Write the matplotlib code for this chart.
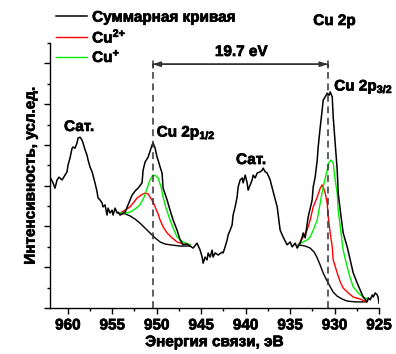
import matplotlib
matplotlib.use("Agg")
import matplotlib.pyplot as plt
import matplotlib.patheffects as pe
from matplotlib.ticker import MultipleLocator

plt.rcParams["font.family"] = ["Liberation Sans", "DejaVu Sans"]
plt.rcParams["font.weight"] = "bold"
plt.rcParams["mathtext.fontset"] = "custom"
plt.rcParams["mathtext.rm"] = "Liberation Sans:bold"
plt.rcParams["mathtext.bf"] = "Liberation Sans:bold"
plt.rcParams["mathtext.default"] = "bf"

# Cu 2p survey: total measured curve
total_be = [962.00, 961.66, 961.44, 961.21, 960.99, 960.65, 960.31, 960.09, 959.97, 959.75,
            959.52, 959.41, 959.19, 958.96, 958.85, 958.62, 958.40, 958.29, 958.06, 957.84,
            957.72, 957.50, 957.27, 956.94, 956.71, 956.60, 956.37, 956.15, 956.04, 955.81,
            955.59, 955.47, 955.25, 955.02, 954.91, 954.68, 954.46, 954.35, 954.12, 953.56,
            953.22, 952.77, 952.43, 952.10, 951.65, 951.53, 951.31, 950.97, 950.52, 950.41,
            950.18, 949.96, 949.85, 949.62, 949.40, 949.28, 948.83, 948.50, 948.16, 947.71,
            947.37, 947.03, 946.58, 946.24, 945.91, 945.46, 945.12, 944.89, 944.78, 944.56,
            944.33, 944.22, 943.99, 943.77, 943.66, 943.43, 943.09, 942.64, 942.53, 942.31,
            942.08, 941.97, 941.74, 941.52, 941.41, 941.18, 940.96, 940.84, 940.62, 940.39,
            940.28, 940.05, 939.83, 939.72, 939.49, 939.27, 939.15, 938.93, 938.70, 938.37,
            938.14, 938.03, 937.80, 937.58, 937.24, 936.90, 936.45, 936.12, 935.78, 935.33,
            934.99, 934.77, 934.43, 934.20, 933.87, 933.64, 933.53, 933.30, 932.97, 932.52,
            932.40, 932.18, 931.95, 931.84, 931.61, 931.39, 931.28, 930.94, 930.83, 930.60,
            930.49, 930.26, 930.15, 929.93, 929.70, 929.59, 929.36, 929.03, 928.58, 928.24,
            927.90, 927.45, 927.11, 926.78, 926.33, 926.21, 925.99, 925.76, 925.65, 925.43,
            925.20, 925.09, 925.00]
total_int = [3.21, 3.07, 2.94, 3.14, 3.21, 3.14, 3.26, 3.34, 3.51, 3.68,
             3.92, 3.95, 3.92, 4.05, 4.17, 4.19, 4.12, 4.05, 3.88, 3.75,
             3.63, 3.46, 3.34, 3.07, 2.85, 2.70, 2.65, 2.58, 2.48, 2.53,
             2.28, 2.45, 2.33, 2.40, 2.28, 2.45, 2.33, 2.35, 2.28, 2.35,
             2.53, 2.77, 2.87, 2.94, 3.07, 3.38, 3.58, 3.70, 4.00, 4.05,
             3.92, 3.70, 3.63, 3.46, 3.31, 2.94, 2.65, 2.40, 2.16, 1.91,
             1.67, 1.55, 1.57, 1.52, 1.47, 1.59, 1.42, 1.25, 1.10, 1.25,
             1.18, 1.35, 1.25, 1.42, 1.25, 1.35, 1.30, 1.37, 1.35, 1.50,
             1.67, 1.79, 1.91, 2.04, 2.28, 2.48, 2.72, 2.97, 3.14, 3.19,
             3.07, 3.26, 3.07, 2.89, 3.02, 3.14, 3.26, 3.19, 3.31, 3.34,
             3.38, 3.43, 3.34, 3.31, 3.14, 2.85, 2.48, 1.91, 1.74, 1.55,
             1.62, 1.50, 1.59, 1.47, 1.59, 1.74, 1.84, 1.72, 2.23, 2.65,
             2.97, 3.21, 3.63, 3.95, 4.44, 4.86, 5.10, 5.22, 5.27, 5.22,
             5.30, 5.18, 4.68, 4.05, 3.38, 2.82, 2.40, 1.84, 1.50, 1.18,
             0.86, 0.61, 0.44, 0.27, 0.15, 0.25, 0.20, 0.32, 0.27, 0.37,
             0.32, 0.25, 0.12]

# Cu 2p1/2 fit: background, Cu2+ and Cu+ components
bg12_be = [954.12, 953.56, 953.00, 952.43, 951.87, 951.31, 950.75, 950.18, 949.62, 949.06,
           948.50, 947.37, 946.24]
bg12_int = [2.33, 2.31, 2.26, 2.18, 2.08, 1.96, 1.84, 1.72, 1.62, 1.57,
            1.55, 1.52, 1.52]
cu2_12_be = [954.12, 953.56, 953.00, 952.55, 952.21, 951.76, 951.31, 950.97, 950.75, 950.41,
             950.18, 949.85, 949.62, 949.28, 948.83, 948.27, 947.71, 947.03, 946.24]
cu2_12_int = [2.33, 2.40, 2.48, 2.60, 2.70, 2.77, 2.82, 2.80, 2.72, 2.60,
              2.48, 2.31, 2.16, 1.99, 1.84, 1.72, 1.62, 1.57, 1.55]
cu1_12_be = [954.12, 953.56, 953.00, 952.43, 951.87, 951.42, 951.08, 950.75, 950.41, 950.07,
             949.85, 949.51, 949.28, 948.95, 948.50, 948.05, 947.71, 947.03, 946.24]
cu1_12_int = [2.33, 2.33, 2.35, 2.43, 2.53, 2.72, 2.94, 3.14, 3.26, 3.24,
              3.19, 2.97, 2.72, 2.45, 2.16, 1.91, 1.74, 1.62, 1.55]

# Cu 2p3/2 fit
bg32_be = [934.09, 933.30, 932.74, 932.29, 931.95, 931.61, 931.28, 930.83, 930.49, 930.15,
           929.70, 929.14, 928.58, 927.68, 926.44]
bg32_int = [1.55, 1.52, 1.47, 1.37, 1.23, 1.05, 0.86, 0.66, 0.52, 0.39,
            0.29, 0.22, 0.17, 0.15, 0.15]
cu2_32_be = [934.09, 933.87, 933.53, 933.08, 932.74, 932.40, 931.95, 931.61, 931.39, 931.28,
             931.05, 930.83, 930.71, 930.49, 930.26, 930.15, 929.70, 929.36, 929.03, 928.46,
             927.90, 927.11, 926.44]
cu2_32_int = [1.55, 1.62, 1.74, 1.91, 2.16, 2.48, 2.72, 2.94, 3.02, 2.97,
              2.82, 2.58, 2.23, 1.84, 1.50, 1.18, 0.86, 0.64, 0.49, 0.37,
              0.27, 0.22, 0.15]
cu1_32_be = [934.09, 933.53, 933.08, 932.74, 932.40, 931.95, 931.61, 931.28, 930.83, 930.60,
             930.38, 930.15, 929.93, 929.70, 929.59, 929.36, 929.03, 928.58, 928.24, 927.90,
             927.34, 926.78, 926.21]
cu1_32_int = [1.55, 1.62, 1.67, 1.74, 1.91, 2.16, 2.58, 2.97, 3.38, 3.58,
              3.63, 3.56, 3.14, 2.82, 2.40, 1.99, 1.42, 1.01, 0.74, 0.52,
              0.37, 0.27, 0.22]

peak_12 = 950.45
peak_32 = 930.75
arrow_y = 5.98

fig = plt.figure(figsize=(3.96, 3.54), dpi=100)
ax = fig.add_axes([0.1263, 0.1299, 0.8308, 0.7486])

red = "#ff0000"
green = "#00ee00"
ax.plot(bg12_be, bg12_int, color="black", lw=1.0)
ax.plot(bg32_be, bg32_int, color="black", lw=1.0)
ax.plot(cu2_12_be, cu2_12_int, color=red, lw=1.0)
ax.plot(cu2_32_be, cu2_32_int, color=red, lw=1.0, label="Cu$^{2{+}}$")
ax.plot(cu1_12_be, cu1_12_int, color=green, lw=1.0)
ax.plot(cu1_32_be, cu1_32_int, color=green, lw=1.0, label="Cu$^{+}$")
ax.plot(total_be, total_int, color="black", lw=1.1, label="Суммарная кривая")

for be in (peak_12, peak_32):
    ax.plot([be, be], [0, arrow_y], color="#333333", lw=1.1, ls=(0, (4.5, 3)))
ax.annotate("", xy=(peak_32, arrow_y), xytext=(peak_12, arrow_y),
            arrowprops=dict(arrowstyle="|-|,widthA=0.25,widthB=0.25", color="#333333",
                            lw=1.1, shrinkA=0, shrinkB=0))
ax.annotate("", xy=(peak_32, arrow_y), xytext=(peak_12, arrow_y),
            arrowprops=dict(arrowstyle="<|-|>,head_length=0.45,head_width=0.15",
                            color="#333333", lw=1.1, shrinkA=0, shrinkB=0))

# slightly heavier strokes for the bold lettering
heavy = [pe.withStroke(linewidth=0.5, foreground="black")]

fs = 11
labels_txt = [
    ax.text(940.5, 6.28, "19.7 eV", ha="center", va="center", fontsize=fs),
    ax.text(930.0, 7.04, "Cu 2p", ha="center", va="center", fontsize=fs, clip_on=False),
    ax.text(958.74, 4.44, "Сат.", ha="center", va="center", fontsize=fs),
    ax.text(939.4, 3.63, "Сат.", ha="center", va="center", fontsize=fs),
    ax.text(950.0, 4.29, "Cu 2p$_{1/2}$", ha="left", va="center", fontsize=fs),
    ax.text(930.04, 5.42, "Cu 2p$_{3/2}$", ha="left", va="center", fontsize=fs,
            clip_on=False),
]

ax.set_xlim(962, 925)
ax.set_ylim(0, 6.5)
ax.xaxis.set_major_locator(MultipleLocator(5))
ax.xaxis.set_minor_locator(MultipleLocator(2.5))
ax.yaxis.set_major_locator(MultipleLocator(1))
ax.yaxis.set_minor_locator(MultipleLocator(0.5))
ax.tick_params(axis="both", which="major", direction="out", length=4.5, width=1.0,
               labelsize=11)
ax.tick_params(axis="both", which="minor", direction="out", length=2.5, width=1.0)
ax.tick_params(axis="y", labelleft=False)
ax.tick_params(axis="x", pad=3)
for side in ("top", "right"):
    ax.spines[side].set_visible(False)
for side in ("left", "bottom"):
    ax.spines[side].set_linewidth(1.0)

ax.set_xlabel("Энергия связи, эВ", fontsize=fs, fontweight="bold", labelpad=2)
ax.set_ylabel("Интенсивность, усл.ед.", fontsize=fs, fontweight="bold", labelpad=3)

handles, labels = ax.get_legend_handles_labels()
order = [2, 0, 1]
leg = fig.legend([handles[i] for i in order], [labels[i] for i in order],
                 loc="upper left", bbox_to_anchor=(0.142, 0.970), frameon=False,
                 prop={"size": fs, "weight": "bold"}, handlelength=2.0,
                 handletextpad=0.35, labelspacing=0.15, borderpad=0, borderaxespad=0)

for t in labels_txt + ax.get_xticklabels() + leg.get_texts() + [ax.xaxis.label, ax.yaxis.label]:
    t.set_fontweight("bold")
    t.set_path_effects(heavy)

fig.savefig("out.png", dpi=100)
